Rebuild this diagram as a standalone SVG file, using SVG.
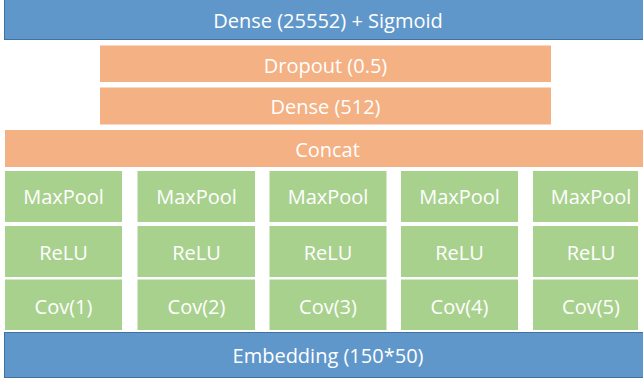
<svg xmlns="http://www.w3.org/2000/svg" width="643" height="378" viewBox="0 0 643 378">
<style>
.blue{fill:#6097CB;stroke:#41719C;stroke-width:1}
.orange{fill:#F4B183}
.green{fill:#A9D18E}
text{font-family:"Open Sans","Liberation Sans",sans-serif;fill:#fff;text-anchor:middle;dominant-baseline:central;font-size:20px}
</style>
<rect width="643" height="378" fill="#fff"/>
<g id="dense-sigmoid"><rect class="blue" x="4.5" y="-1" width="640" height="40.5"/><text x="328" y="20.5">Dense (25552) + Sigmoid</text></g>
<g id="dropout"><rect class="orange" x="100" y="45.5" width="451" height="36.5"/><text x="325.5" y="65">Dropout (0.5)</text></g>
<g id="dense512"><rect class="orange" x="100" y="87.5" width="451" height="37"/><text x="325.5" y="106.5">Dense (512)</text></g>
<g id="concat"><rect class="orange" x="5" y="130" width="638" height="37"/><text x="327.5" y="149">Concat</text></g>
<g id="col1">
<g id="maxpool1"><rect class="green" x="5" y="171" width="117" height="51"/><text x="63.5" y="196">MaxPool</text></g>
<g id="relu1"><rect class="green" x="5" y="226" width="117" height="51"/><text x="63.5" y="252">ReLU</text></g>
<g id="cov1"><rect class="green" x="5" y="279.5" width="117" height="50.5"/><text x="63.5" y="306">Cov(1)</text></g>
</g>
<g id="col2">
<g id="maxpool2"><rect class="green" x="137.5" y="171" width="117.5" height="51"/><text x="196.5" y="196">MaxPool</text></g>
<g id="relu2"><rect class="green" x="137.5" y="226" width="117.5" height="51"/><text x="196.5" y="252">ReLU</text></g>
<g id="cov2"><rect class="green" x="137.5" y="279.5" width="117.5" height="50.5"/><text x="196.5" y="306">Cov(2)</text></g>
</g>
<g id="col3">
<g id="maxpool3"><rect class="green" x="269.5" y="171" width="117" height="51"/><text x="328" y="196">MaxPool</text></g>
<g id="relu3"><rect class="green" x="269.5" y="226" width="117" height="51"/><text x="328" y="252">ReLU</text></g>
<g id="cov3"><rect class="green" x="269.5" y="279.5" width="117" height="50.5"/><text x="328" y="306">Cov(3)</text></g>
</g>
<g id="col4">
<g id="maxpool4"><rect class="green" x="401" y="171" width="117" height="51"/><text x="459.5" y="196">MaxPool</text></g>
<g id="relu4"><rect class="green" x="401" y="226" width="117" height="51"/><text x="459.5" y="252">ReLU</text></g>
<g id="cov4"><rect class="green" x="401" y="279.5" width="117" height="50.5"/><text x="459.5" y="306">Cov(4)</text></g>
</g>
<g id="col5">
<g id="maxpool5"><rect class="green" x="533" y="171" width="105" height="51"/><text x="591" y="196">MaxPool</text></g>
<g id="relu5"><rect class="green" x="533" y="226" width="105" height="51"/><text x="591" y="252">ReLU</text></g>
<g id="cov5"><rect class="green" x="533" y="279.5" width="105" height="50.5"/><text x="591" y="306">Cov(5)</text></g>
</g>
<g id="embedding"><rect class="blue" x="4.5" y="332.5" width="640" height="45"/><text x="328" y="355.5">Embedding (150*50)</text></g>
<g id="connectors"/>
</svg>
